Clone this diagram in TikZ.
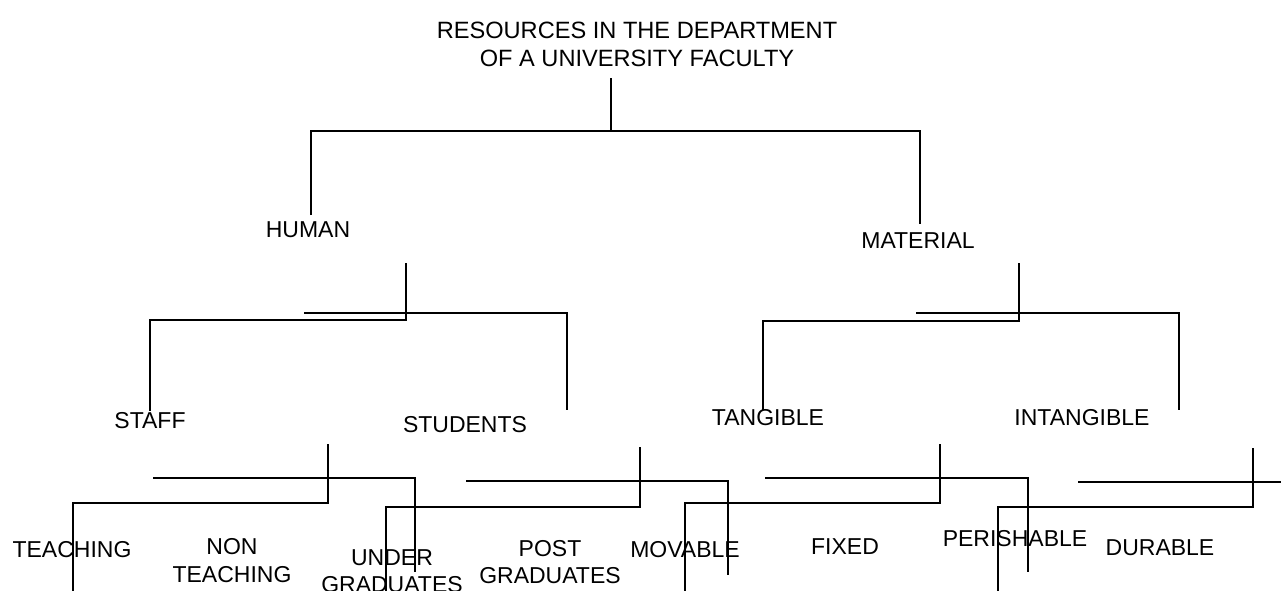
\documentclass[tikz,border=0pt]{standalone}
\usepackage{fontspec}
\setmainfont{Liberation Sans}
\begin{document}
\begin{tikzpicture}[x=1pt,y=-1pt,
  lbl/.style={inner sep=0pt,align=center,font=\fontsize{23}{27.5}\selectfont},
  conn/.style={line width=1.7pt,line cap=butt,line join=miter}]
\useasboundingbox (0,0) rectangle (1281,590);
\clip (0,0) rectangle (1281,590);
\fill[white] (0,0) rectangle (1281,590);
% nodes
\node[lbl,font=\fontsize{23.6}{28}\selectfont] (root) at (637,44) {RESOURCES IN THE DEPARTMENT\\OF A UNIVERSITY FACULTY};
\node[lbl] (human) at (308,230) {HUMAN};
\node[lbl] (material) at (918,241) {MATERIAL};
\node[lbl] (staff) at (150,421) {STAFF};
\node[lbl] (students) at (465,425) {STUDENTS};
\node[lbl] (tangible) at (768,418) {TANGIBLE};
\node[lbl] (intangible) at (1082,418) {INTANGIBLE};
\node[lbl] (teaching) at (72,550) {TEACHING};
\node[lbl] (nonteaching) at (232,560.5) {NON\\TEACHING};
\node[lbl] (under) at (392,571) {UNDER\\GRADUATES};
\node[lbl] (post) at (550,562) {POST\\GRADUATES};
\node[lbl] (movable) at (685,550) {MOVABLE};
\node[lbl] (fixed) at (845,547) {FIXED};
\node[lbl] (perishable) at (1015,539) {PERISHABLE};
\node[lbl] (durable) at (1160,548) {DURABLE};
% junction coordinates
\coordinate (r0) at (611,78);
\coordinate (r1) at (611,131);
\coordinate (hA) at (311,131);
\coordinate (hB) at (311,215);
\coordinate (mA) at (920,131);
\coordinate (mB) at (920,224);
% human subtree
\coordinate (h0) at (406,263);
\coordinate (h1) at (406,320);
\coordinate (h2) at (150,320);
\coordinate (h3) at (150,411);
\coordinate (h4) at (304,313);
\coordinate (h5) at (567,313);
\coordinate (h6) at (567,410);
% material subtree
\coordinate (m0) at (1019,263);
\coordinate (m1) at (1019,321);
\coordinate (m2) at (763,321);
\coordinate (m3) at (763,410);
\coordinate (m4) at (916,313);
\coordinate (m5) at (1179,313);
\coordinate (m6) at (1179,410);
% staff subtree
\coordinate (s0) at (328,444);
\coordinate (s1) at (328,503);
\coordinate (s2) at (73,503);
\coordinate (s3) at (73,595);
\coordinate (s4) at (153,478);
\coordinate (s5) at (415,478);
\coordinate (s6) at (415,572);
% students subtree
\coordinate (u0) at (640,447);
\coordinate (u1) at (640,507);
\coordinate (u2) at (386,507);
\coordinate (u3) at (386,595);
\coordinate (u4) at (466,481);
\coordinate (u5) at (728,481);
\coordinate (u6) at (728,575);
% tangible subtree
\coordinate (t0) at (940,444);
\coordinate (t1) at (940,503);
\coordinate (t2) at (685,503);
\coordinate (t3) at (685,595);
\coordinate (t4) at (765,478);
\coordinate (t5) at (1028,478);
\coordinate (t6) at (1028,572);
% intangible subtree
\coordinate (i0) at (1253,448);
\coordinate (i1) at (1253,507);
\coordinate (i2) at (998,507);
\coordinate (i3) at (998,595);
\coordinate (i4) at (1078,482);
\coordinate (i5) at (1300,482);
% connectors
\draw[conn] (r0) -- (r1);
\draw[conn] (hB) -- (hA) -- (mA) -- (mB);
\draw[conn] (h0) -- (h1) -- (h2) -- (h3);
\draw[conn] (h4) -- (h5) -- (h6);
\draw[conn] (m0) -- (m1) -- (m2) -- (m3);
\draw[conn] (m4) -- (m5) -- (m6);
\draw[conn] (s0) -- (s1) -- (s2) -- (s3);
\draw[conn] (s4) -- (s5) -- (s6);
\draw[conn] (u0) -- (u1) -- (u2) -- (u3);
\draw[conn] (u4) -- (u5) -- (u6);
\draw[conn] (t0) -- (t1) -- (t2) -- (t3);
\draw[conn] (t4) -- (t5) -- (t6);
\draw[conn] (i0) -- (i1) -- (i2) -- (i3);
\draw[conn] (i4) -- (i5);
\end{tikzpicture}
\end{document}
